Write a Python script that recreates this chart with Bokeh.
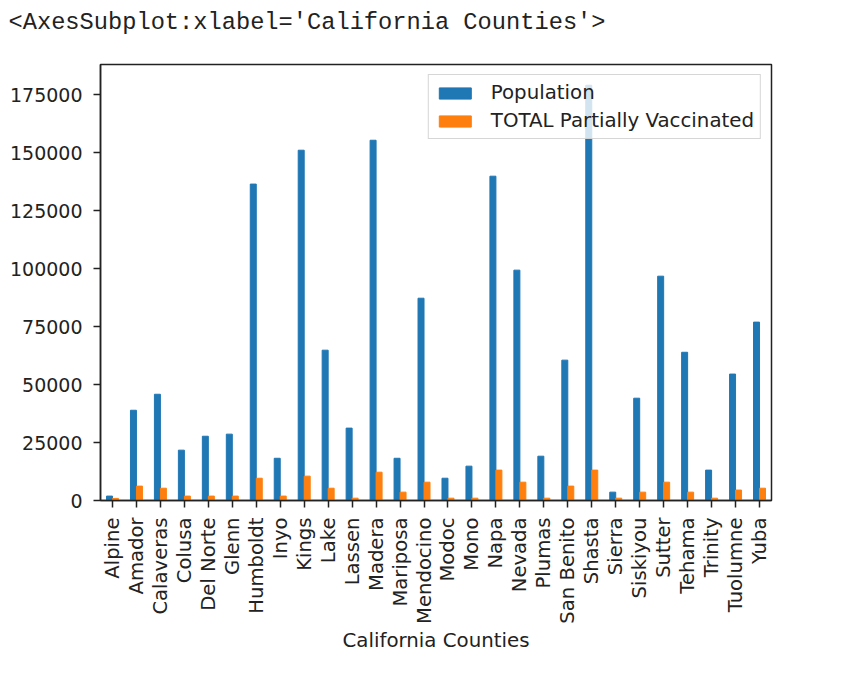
import math
from bokeh.plotting import figure
from bokeh.models import FactorRange, Range1d, SingleIntervalTicker, BasicTickFormatter
from bokeh.transform import dodge
from bokeh.embed import file_html
from bokeh.resources import INLINE

counties = ["Alpine", "Amador", "Calaveras", "Colusa", "Del Norte", "Glenn", "Humboldt",
            "Inyo", "Kings", "Lake", "Lassen", "Madera", "Mariposa", "Mendocino", "Modoc",
            "Mono", "Napa", "Nevada", "Plumas", "San Benito", "Shasta", "Sierra", "Siskiyou",
            "Sutter", "Tehama", "Trinity", "Tuolumne", "Yuba"]
population = [1900, 38900, 45800, 21700, 27700, 28600, 136400, 18200, 151000, 64800,
              31200, 155300, 18200, 87200, 9600, 14800, 139800, 99300, 19100, 60500,
              179000, 3600, 44100, 96700, 63900, 13100, 54500, 76900]
partially_vaccinated = [900, 6200, 5300, 1900, 1900, 1900, 9600, 1900, 10500, 5300,
                        1000, 12200, 3600, 7900, 1000, 1000, 13100, 7900, 1000, 6200,
                        13100, 1000, 3600, 7900, 3600, 1000, 4500, 5300]
series_names = ["Population", "TOTAL Partially Vaccinated"]
x_label = "California Counties"
header = "<AxesSubplot:xlabel='California Counties'>"

FONT = "DejaVu Sans"
TXT = "#222222"

data = dict(county=counties, pop=population, vac=partially_vaccinated)

p = figure(x_range=FactorRange(factors=counties, range_padding=0),
           y_range=Range1d(0, max(population) * 1.05),
           width=867, height=676, output_backend="svg", toolbar_location=None,
           min_border_left=100, min_border_right=96, min_border_top=64,
           min_border_bottom=176)

p.vbar(x=dodge("county", -0.125, range=p.x_range), top="pop", width=0.25, source=data,
       color="#1f77b4", legend_label=series_names[0])
p.vbar(x=dodge("county", 0.125, range=p.x_range), top="vac", width=0.25, source=data,
       color="#ff7f0e", legend_label=series_names[1])

# header line sits in the top line of a two-line title box, leaving a gap above the frame
p.title.text = header + "\n"
p.title.text_font = "Liberation Mono"
p.title.text_font_size = "23.7px"
p.title.text_font_style = "normal"
p.title.text_color = TXT
p.title.offset = -92
p.title.standoff = 4

p.xgrid.visible = False
p.ygrid.visible = False
p.outline_line_color = "#222222"
p.outline_line_width = 1.5
p.outline_line_alpha = 1

p.yaxis.ticker = SingleIntervalTicker(interval=25000, num_minor_ticks=0)
p.yaxis.formatter = BasicTickFormatter(use_scientific=False)

for ax in (p.xaxis[0], p.yaxis[0]):
    ax.axis_line_color = "#222222"
    ax.axis_line_width = 1.5
    ax.major_tick_line_color = "#222222"
    ax.major_tick_line_width = 1.5
    ax.major_tick_in = 0
    ax.major_tick_out = 7
    ax.minor_tick_line_color = None
    ax.major_label_text_font = FONT
    ax.major_label_text_color = TXT

p.yaxis.major_label_text_font_size = "19px"
p.xaxis.major_label_text_font_size = "19.6px"
p.yaxis.major_label_standoff = 11
p.xaxis.major_label_orientation = math.pi / 2
p.xaxis.major_label_standoff = 10
p.xaxis.axis_label = x_label
p.xaxis.axis_label_text_font = FONT
p.xaxis.axis_label_text_font_size = "19.8px"
p.xaxis.axis_label_text_font_style = "normal"
p.xaxis.axis_label_text_color = TXT
p.xaxis.axis_label_standoff = 2

lg = p.legend[0]
lg.location = "top_right"
lg.margin = 10
lg.padding = 6
lg.spacing = 5
lg.glyph_width = 40
lg.glyph_height = 14
lg.label_standoff = 16
lg.label_text_font = FONT
lg.label_text_font_size = "19.8px"
lg.label_text_color = TXT
lg.border_line_color = "#cccccc"
lg.border_line_alpha = 0.8
lg.background_fill_alpha = 0.8

open("out.html", "w").write(file_html(p, INLINE))
